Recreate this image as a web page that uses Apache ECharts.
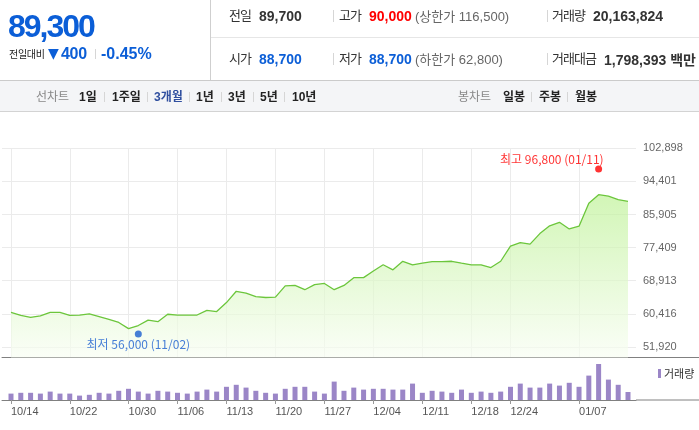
<!DOCTYPE html>
<html><head><meta charset="utf-8">
<script src="https://cdn.jsdelivr.net/npm/echarts@6/dist/echarts.min.js"></script>
<style>
html,body{margin:0;padding:0;background:#fff;width:699px;height:430px;overflow:hidden}
#chart{position:absolute;left:0;top:0;width:699px;height:430px}
.t{position:absolute;white-space:nowrap;font-family:'Liberation Sans','Noto Sans CJK KR',sans-serif;color:#333;line-height:20px;height:20px}
.k{font-family:'Noto Sans CJK KR',sans-serif}
.b{font-weight:bold}
.sep{position:absolute;width:1px;background:#d6d6d6}
#hdr{position:absolute;left:0;top:0;width:699px;height:112px;z-index:2}
</style></head>
<body>
<div id="chart"></div>
<div id="hdr">
  <div style="position:absolute;left:210px;top:0;width:1px;height:80px;background:#cfcfcf"></div>
  <div style="position:absolute;left:211px;top:37px;width:488px;height:1px;background:#e6e6e6"></div>
  <div style="position:absolute;left:0;top:80px;width:699px;height:30px;background:#f4f5f7;border-top:1px solid #cbcbcb;border-bottom:1px solid #d3d3d3"></div>

  <div class="t b" style="left:8px;top:10px;font-size:32px;line-height:32px;height:32px;color:#0b5ed7;letter-spacing:-2px">89,300</div>
  <div class="t k" style="left:9px;top:44px;font-size:10px;letter-spacing:-0.3px;color:#222">전일대비</div>
  <div class="t" style="left:48px;top:43px;font-size:14px;color:#0b5ed7;font-family:'DejaVu Sans'">▼</div>
  <div class="t b" style="left:61px;top:44px;font-size:16px;color:#0b5ed7;font-weight:600;letter-spacing:-0.3px">400</div>
  <div class="sep" style="left:95px;top:49px;height:10px"></div>
  <div class="t b" style="left:101px;top:44px;font-size:16px;color:#0b5ed7;font-weight:600">-0.45%</div>

  <div class="t k" style="left:229px;top:5px;font-size:13px;letter-spacing:-1px">전일</div>
  <div class="t b" style="left:259px;top:6px;font-size:14px">89,700</div>
  <div class="sep" style="left:333px;top:10px;height:12px"></div>
  <div class="t k" style="left:339px;top:5px;font-size:13px;letter-spacing:-1px">고가</div>
  <div class="t b" style="left:369px;top:6px;font-size:14px;color:#ff0000">90,000</div>
  <div class="t" style="left:415px;top:6px;font-size:13px;color:#666">(<span class="k">상한가</span> 116,500)</div>
  <div class="sep" style="left:547px;top:10px;height:12px"></div>
  <div class="t k" style="left:552px;top:5px;font-size:13px;letter-spacing:-1px">거래량</div>
  <div class="t b" style="left:593px;top:6px;font-size:14px">20,163,824</div>

  <div class="t k" style="left:229px;top:48px;font-size:13px;letter-spacing:-1px">시가</div>
  <div class="t b" style="left:259px;top:49px;font-size:14px;color:#0b5ed7">88,700</div>
  <div class="sep" style="left:333px;top:53px;height:12px"></div>
  <div class="t k" style="left:339px;top:48px;font-size:13px;letter-spacing:-1px">저가</div>
  <div class="t b" style="left:369px;top:49px;font-size:14px;color:#0b5ed7">88,700</div>
  <div class="t" style="left:415px;top:49px;font-size:13px;color:#666">(<span class="k">하한가</span> 62,800)</div>
  <div class="sep" style="left:547px;top:53px;height:12px"></div>
  <div class="t k" style="left:552px;top:48px;font-size:13px;letter-spacing:-1px">거래대금</div>
  <div class="t b" style="left:604px;top:49px;font-size:14px">1,798,393 <span class="k">백만</span></div>

  <div class="t k" style="left:36px;top:86px;font-size:12px;color:#888">선차트</div>
  <div class="t b" style="left:79px;top:86px;font-size:12px;color:#222">1<span class="k">일</span></div>
  <div class="sep" style="left:104px;top:92px;height:10px"></div>
  <div class="t b" style="left:112px;top:86px;font-size:12px;color:#222">1<span class="k">주일</span></div>
  <div class="sep" style="left:147px;top:92px;height:10px"></div>
  <div class="t" style="left:154px;top:86px;font-size:12px;color:#2f4f9f;font-weight:600">3<span class="k">개월</span></div>
  <div class="sep" style="left:189px;top:92px;height:10px"></div>
  <div class="t b" style="left:196px;top:86px;font-size:12px;color:#222">1<span class="k">년</span></div>
  <div class="sep" style="left:221px;top:92px;height:10px"></div>
  <div class="t b" style="left:228px;top:86px;font-size:12px;color:#222">3<span class="k">년</span></div>
  <div class="sep" style="left:253px;top:92px;height:10px"></div>
  <div class="t b" style="left:260px;top:86px;font-size:12px;color:#222">5<span class="k">년</span></div>
  <div class="sep" style="left:284px;top:92px;height:10px"></div>
  <div class="t b" style="left:292px;top:86px;font-size:12px;color:#222">10<span class="k">년</span></div>

  <div class="t k" style="left:458px;top:86px;font-size:12px;color:#888">봉차트</div>
  <div class="t k b" style="left:503px;top:86px;font-size:12px;color:#222">일봉</div>
  <div class="sep" style="left:531px;top:92px;height:10px"></div>
  <div class="t k b" style="left:539px;top:86px;font-size:12px;color:#222">주봉</div>
  <div class="sep" style="left:567px;top:92px;height:10px"></div>
  <div class="t k b" style="left:575px;top:86px;font-size:12px;color:#222">월봉</div>
</div>
<script>
const dates = [
  "10/14","10/15","10/16","10/19","10/20","10/21","10/22","10/23","10/26","10/27","10/28","10/29","10/30",
  "11/02","11/03","11/04","11/05","11/06","11/09","11/10","11/11","11/12","11/13","11/16","11/17","11/18","11/19","11/20","11/23","11/24","11/25","11/26","11/27","11/30",
  "12/01","12/02","12/03","12/04","12/07","12/08","12/09","12/10","12/11","12/14","12/15","12/16","12/17","12/18","12/21","12/22","12/23","12/24","12/28","12/29","12/30",
  "01/04","01/05","01/06","01/07","01/08","01/11","01/12","01/13","01/14"
];
const closes = [
  60800,60000,59500,59900,60800,60800,60000,60100,60400,59700,59000,58200,56600,
  57400,58800,58400,60300,60100,60100,60100,61300,61000,63300,66200,65700,64800,64600,64700,67600,67700,66600,67900,68200,66600,
  67700,69700,69700,71400,73000,71700,73900,73000,73400,73800,73800,73900,73400,73000,73000,72300,73900,77800,78700,78300,81000,
  83000,83900,82200,82900,88800,91000,90600,89700,89300
];
// volume in millions of shares
const volumes = [
  16,18,18,16,21,16,16,11,13,18,16,23,28,
  21,16,23,21,18,16,21,26,21,33,38,31,23,18,16,28,33,33,21,16,46,
  23,31,26,28,28,26,26,41,18,23,21,18,26,18,21,18,21,33,41,31,31,
  41,36,43,33,61,90,51,38,20
];
const xTickLabels = ["10/14","10/22","10/30","11/06","11/13","11/20","11/27","12/04","12/11","12/18","12/24","01/07"];
const yTickValues = [51920,60416,68913,77409,85905,94401,102898];
const extremeNames = ["최고","최저"];
const extremeValues = [96800,56000];
const extremeDates = ["01/11","11/02"];
const extremeColors = ["#ff0000","#1a5fd0"];

const xTickIdx = xTickLabels.map(l => dates.indexOf(l));
const fmt = v => Math.round(v).toLocaleString('en-US');
const FONT = "'Liberation Sans','Noto Sans CJK KR',sans-serif";
const XMIN = -0.919, XMAX = 63.817;

const extremeData = extremeValues.map((v,k) => {
  const isHigh = k === 0;
  return {
    value: [dates.indexOf(extremeDates[k]), v],
    itemStyle: {color: extremeColors[k]},
    symbolOffset: [0, isHigh ? -3 : 3],
    label: {
      show: true,
      formatter: extremeNames[k] + ' ' + fmt(v) + ' (' + extremeDates[k] + ')',
      color: extremeColors[k],
      fontSize: 12,
      fontFamily: "'Noto Sans CJK KR',sans-serif",
      position: isHigh ? 'top' : 'bottom',
      align: isHigh ? 'right' : 'center',
      distance: isHigh ? 0 : 1,
      offset: isHigh ? [5, 0] : [0, 0]
    }
  };
});

const chart = echarts.init(document.getElementById('chart'), null, {renderer: 'canvas'});
chart.setOption({
  animation: false,
  backgroundColor: 'transparent',
  grid: [
    {left: 2, right: 63, top: 148.3, bottom: 72.5},
    {left: 2, right: 63, top: 360, bottom: 30}
  ],
  legend: {
    data: ['거래량'], left: 653, top: 363, icon: 'rect', itemWidth: 3, itemHeight: 9,
    selectedMode: false,
    textStyle: {fontSize: 11, color: '#333', fontFamily: "'Noto Sans CJK KR',sans-serif", padding: [0,0,0,-2]}
  },
  xAxis: [
    {
      type: 'value', gridIndex: 0, min: XMIN, max: XMAX,
      axisLine: {show: true, onZero: false, lineStyle: {color: '#808080', width: 1}},
      axisTick: {show: false, customValues: xTickIdx},
      axisLabel: {show: false, customValues: xTickIdx},
      splitLine: {show: true, lineStyle: {color: '#ebebeb'}}
    },
    {
      type: 'value', gridIndex: 1, min: XMIN, max: XMAX,
      axisLine: {show: true, onZero: false, lineStyle: {color: '#808080', width: 1}},
      axisTick: {show: true, customValues: xTickIdx, length: 4, lineStyle: {color: '#999'}},
      axisLabel: {
        customValues: xTickIdx, formatter: v => dates[Math.round(v)],
        align: 'left', color: '#555', fontSize: 11, fontFamily: FONT, margin: 6
      },
      splitLine: {show: false}
    }
  ],
  yAxis: [
    {
      type: 'value', gridIndex: 0, position: 'right', min: 49200, max: 102898,
      axisLine: {show: false},
      axisTick: {show: false, customValues: yTickValues},
      axisLabel: {customValues: yTickValues, formatter: v => fmt(v), color: '#666', fontSize: 11, fontFamily: FONT, margin: 7, align: 'left'},
      splitLine: {show: true, lineStyle: {color: '#ebebeb'}}
    },
    {
      type: 'value', gridIndex: 1, min: 0, max: 100, show: false,
      splitLine: {show: false}
    }
  ],
  series: [
    {
      type: 'line', name: '종가', xAxisIndex: 0, yAxisIndex: 0,
      data: closes.map((v,i) => [i, v]),
      symbol: 'none', smooth: false,
      lineStyle: {color: '#6cc63c', width: 1.3},
      areaStyle: {
        origin: 'start',
        color: new echarts.graphic.LinearGradient(0,0,0,1,[
          {offset: 0, color: '#bef197'}, {offset: 1, color: '#f8fdf3'}
        ])
      },
      z: 2
    },
    {
      type: 'scatter', name: 'extreme', xAxisIndex: 0, yAxisIndex: 0,
      symbolSize: 7, data: extremeData, z: 5
    },
    {
      type: 'bar', name: '거래량', xAxisIndex: 1, yAxisIndex: 1,
      data: volumes.map((v,i) => [i, v]),
      barWidth: 5, itemStyle: {color: '#9b86c7'}
    }
  ],
  graphic: [
    {type: 'line', shape: {x1: 636, y1: 357.5, x2: 699, y2: 357.5}, style: {stroke: '#808080', lineWidth: 1}, silent: true},
    {type: 'line', shape: {x1: 636, y1: 400, x2: 699, y2: 400}, style: {stroke: '#808080', lineWidth: 1}, silent: true}
  ]
});
</script>
</body></html>
